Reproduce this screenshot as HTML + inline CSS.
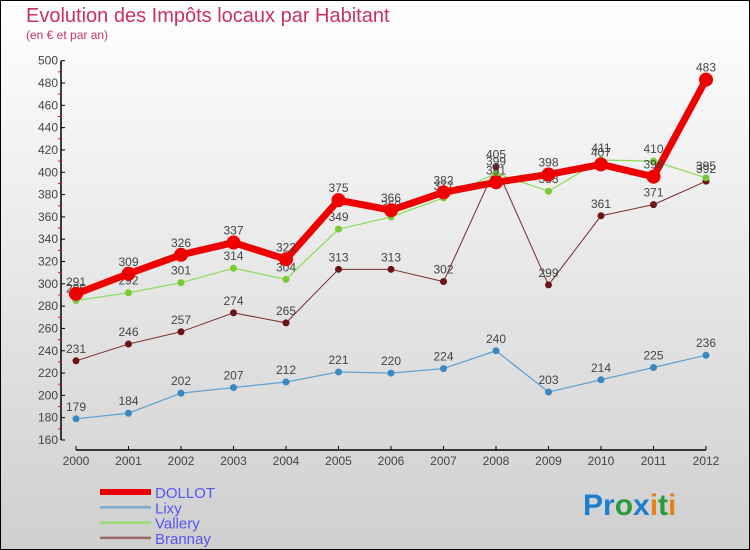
<!DOCTYPE html>
<html><head><meta charset="utf-8">
<style>
html,body{margin:0;padding:0}
body{width:750px;height:550px;overflow:hidden;font-family:"Liberation Sans",sans-serif}
#wrap{position:absolute;left:0;top:0;width:748px;height:548px;border:1px solid #000;background:linear-gradient(#ffffff,#cfcfcf)}
</style></head><body>
<div id="wrap">
<svg id="chart" width="750" height="550" style="position:absolute;left:-1px;top:-1px">
<text x="26" y="22" font-size="20" fill="#c8325f">Evolution des Impôts locaux par Habitant</text>
<text x="26" y="39" font-size="12" fill="#c8325f">(en € et par an)</text>
<g id="axes"></g>
<g id="series"></g>
<g id="legend"></g>
<text x="583" y="515" font-size="30" font-weight="bold"><tspan fill="#1a7fd0">Pr</tspan><tspan fill="#2a9a3a">o</tspan><tspan fill="#1a7fd0">x</tspan><tspan fill="#e8801a">i</tspan><tspan fill="#2a9a3a">t</tspan><tspan fill="#e8801a">i</tspan></text>
</svg>
</div>
<script>
const years=[2000,2001,2002,2003,2004,2005,2006,2007,2008,2009,2010,2011,2012];
const yTicks=[160,180,200,220,240,260,280,300,320,340,360,380,400,420,440,460,480,500];
const dollot=[291,309,326,337,322,375,366,382,391,398,407,396,483];
const lixy=[179,184,202,207,212,221,220,224,240,203,214,225,236];
const vallery=[285,292,301,314,304,349,360,377,399,383,411,410,395];
const brannay=[231,246,257,274,265,313,313,302,405,299,361,371,392];
const NS="http://www.w3.org/2000/svg";
const X0=76,X1=706,Y0=440,Y1=60.7,VMIN=160,VMAX=500;
function xs(i){return X0+(X1-X0)*i/(years.length-1);}
function ys(v){return Y0-(v-VMIN)*(Y0-Y1)/(VMAX-VMIN);}
function mk(tag,attrs,parent){const e=document.createElementNS(NS,tag);for(const k in attrs)e.setAttribute(k,attrs[k]);parent.appendChild(e);return e;}
const axes=document.getElementById('axes');
let yl=mk('line',{x1:61,y1:Y1,x2:61,y2:Y0,stroke:'#000','stroke-width':1.5},axes);


let xl=mk('line',{x1:X0,y1:450,x2:X1,y2:450,stroke:'#000','stroke-width':1.5},axes);


yTicks.forEach((v,i)=>{
  const y=ys(v);
  mk('line',{x1:61,y1:y,x2:65,y2:y,stroke:'#000'},axes);
  if(i<yTicks.length-1)mk('line',{x1:58,y1:y-11.15,x2:61,y2:y-11.15,stroke:'#f00'},axes);
  const t=mk('text',{x:58,y:y+4,'font-size':12,fill:'#444','text-anchor':'end'},axes);
  t.textContent=v;
  
  
});
years.forEach((yr,i)=>{
  const x=xs(i);
  mk('line',{x1:x,y1:446,x2:x,y2:450,stroke:'#000'},axes);
  const t=mk('text',{x:x,y:465,'font-size':12,fill:'#444','text-anchor':'middle'},axes);
  t.textContent=yr;
  
  
});
const series=document.getElementById('series');
const defs=[
 {name:'brannay',data:brannay,color:'#7a2a2a',dot:'#6a1414',w:1,r:3.5},
 {name:'vallery',data:vallery,color:'#88dd55',dot:'#77cc33',w:1.2,r:3.5},
 {name:'lixy',data:lixy,color:'#5aa0d0',dot:'#3a88c0',w:1.2,r:3.5},
 {name:'dollot',data:dollot,color:'#ee0000',dot:'#ee0000',w:7,r:7}
];
defs.forEach(s=>{
  const g=mk('g',{},series);
  
  
  const pl=mk('polyline',{points:s.data.map((v,i)=>xs(i)+','+ys(v)).join(' '),fill:'none',stroke:s.color,'stroke-width':s.w,'stroke-linejoin':'round'},g);
  
  
  s.data.forEach((v,i)=>{
    const c=mk('circle',{cx:xs(i),cy:ys(v),r:s.r,fill:s.dot},g);
    
    
    const t=mk('text',{x:xs(i),y:ys(v)-8,'font-size':12,fill:'#444','text-anchor':'middle'},g);
    t.textContent=v;
    
    
  });
});
const legend=document.getElementById('legend');
const leg=[['DOLLOT','#ee0000',6],['Lixy','#7aaad0',2.5],['Vallery','#99dd77',2.5],['Brannay','#9a6a6a',2.5]];
leg.forEach((l,i)=>{
  const y=492+i*15.3;
  const g=mk('g',{},legend);
  
  
  mk('line',{x1:100,y1:y,x2:151,y2:y,stroke:l[1],'stroke-width':l[2]},g);
  const t=mk('text',{x:155,y:y+6,'font-size':15,fill:'#5555ee'},g);
  t.textContent=l[0];
});
</script>
</body></html>
